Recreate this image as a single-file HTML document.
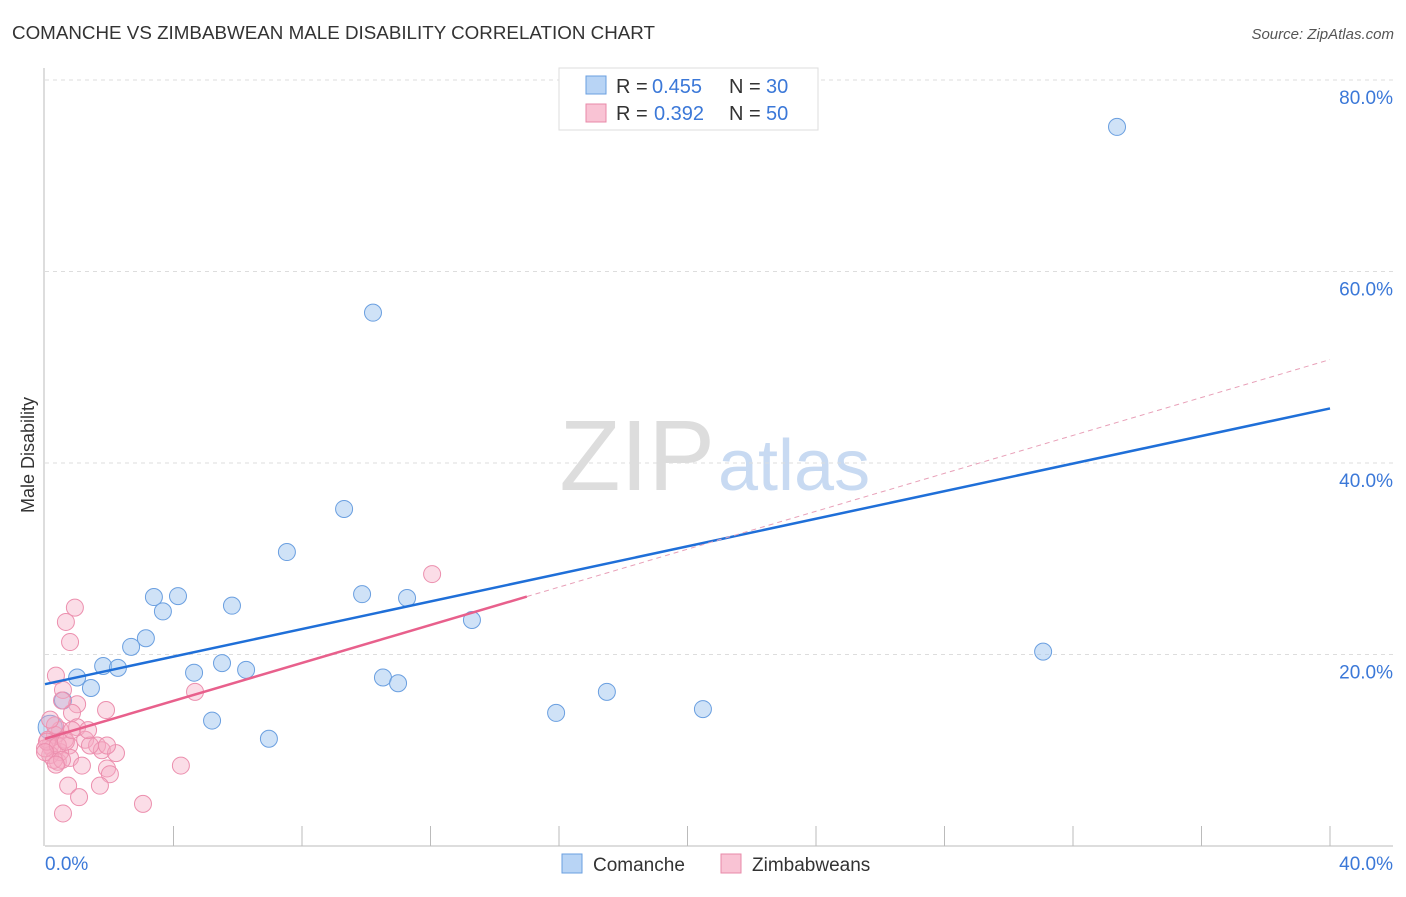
<!DOCTYPE html>
<html><head><meta charset="utf-8"><style>
body{margin:0;background:#fff;font-family:"Liberation Sans",sans-serif}
svg text{font-family:"Liberation Sans",sans-serif}
</style></head><body>
<svg width="1406" height="892" id="c">
<text x="12" y="39" font-size="18" fill="#333" textLength="643" lengthAdjust="spacingAndGlyphs">COMANCHE VS ZIMBABWEAN MALE DISABILITY CORRELATION CHART</text>
<text x="1394" y="39" font-size="15" fill="#555" text-anchor="end" font-style="italic">Source: ZipAtlas.com</text>
<text x="715" y="490" font-size="100" fill="#ddd" text-anchor="end" font-family="Liberation Serif">ZIP</text>
<text x="718" y="490" font-size="72" fill="#c8daf2">atlas</text>
<text transform="translate(34,455) rotate(-90)" font-size="18" fill="#333" text-anchor="middle">Male Disability</text>
<g id="grid"></g><g id="pts"></g><g id="lines"></g>
<g>
<rect x="559" y="68" width="259" height="62" fill="#fff" stroke="#ddd"/>
<rect x="586" y="76" width="20" height="18" fill="#b8d4f5" stroke="#6a9fe0"/>
<text x="616" y="93" font-size="20" fill="#333">R =</text>
<text x="652" y="93" font-size="20" fill="#3b78d8">0.455</text>
<text x="729" y="93" font-size="20" fill="#333">N =</text>
<text x="766" y="93" font-size="20" fill="#3b78d8">30</text>
<rect x="586" y="104" width="20" height="18" fill="#f9c3d4" stroke="#e889a8"/>
<text x="616" y="120" font-size="20" fill="#333">R =</text>
<text x="654" y="120" font-size="20" fill="#3b78d8">0.392</text>
<text x="729" y="120" font-size="20" fill="#333">N =</text>
<text x="766" y="120" font-size="20" fill="#3b78d8">50</text>
</g>
<g>
<rect x="562" y="854" width="20" height="19" fill="#b8d4f5" stroke="#6a9fe0"/>
<text x="593" y="871" font-size="19" fill="#333">Comanche</text>
<rect x="721" y="854" width="20" height="19" fill="#f9c3d4" stroke="#e889a8"/>
<text x="752" y="871" font-size="19" fill="#333">Zimbabweans</text>
</g>
</svg>
<script>
const xTicks=[0,40];
const yTicks=[20,40,60,80];
const blueX=[33.37,10.21,9.31,7.53,3.39,4.14,3.67,5.82,9.87,11.27,13.29,2.68,3.14,1.81,2.27,1.00,1.43,4.64,5.51,6.26,10.52,10.99,0.56,5.20,6.97,15.91,17.49,20.48,31.07,0.16];
const blueY=[75.1,55.7,35.2,30.7,26.0,26.1,24.5,25.1,26.3,25.9,23.6,20.8,21.7,18.8,18.6,17.6,16.5,18.1,19.1,18.4,17.6,17.0,15.2,13.1,11.2,13.9,16.1,14.3,20.3,12.4];
const pinkX=[12.05,0.93,0.65,0.78,0.34,0.56,1.00,0.84,1.90,1.00,4.67,1.25,0.47,0.16,1.62,1.77,2.21,1.93,0.75,1.40,0.40,0.78,1.15,4.23,1.93,2.02,0.72,1.71,1.06,3.05,0.56,0.31,0.09,0.22,0.47,0.62,0.16,0.28,0.0,0.06,0.40,0.53,0.65,0.31,0.84,1.34,0.53,0.16,0.0,0.34];
const pinkY=[28.4,24.9,23.4,21.3,17.8,16.3,14.8,13.9,14.2,12.4,16.1,11.1,12.1,10.5,10.5,10.0,9.7,10.5,10.5,10.5,8.8,9.2,8.4,8.4,8.1,7.5,6.3,6.3,5.1,4.4,3.4,11.6,11.1,10.2,9.8,11.1,9.5,9.0,10.2,10.9,10.5,9.0,10.9,12.6,12.1,12.1,15.2,13.2,9.8,8.5];
const blueLine=[16.9,45.7];
const pinkLine=[11.2,50.8];
const pinkSolidEnd=15;
const X=v=>45+v*(1330-45)/40, Y=v=>846-v*(846-80)/80;
const NS='http://www.w3.org/2000/svg';
function mk(p,t,a){const e=document.createElementNS(NS,t);for(const k in a)e.setAttribute(k,a[k]);p.appendChild(e);return e;}
const g=document.getElementById('grid');
yTicks.forEach(t=>{
 const l=mk(g,'line',{x1:45,x2:1393,y1:Y(t),y2:Y(t),stroke:'#ddd','stroke-dasharray':'4,4'});
 
 
 const tx=mk(g,'text',{x:1393,y:Y(t)+24,'font-size':19,fill:'#3b78d8','text-anchor':'end'});
 tx.textContent=t.toFixed(1)+'%';
 
 
});
mk(g,'line',{x1:44,x2:44,y1:68,y2:846,stroke:'#bbb'});
mk(g,'line',{x1:45,x2:1393,y1:846,y2:846,stroke:'#bbb'});
for(let i=1;i<=10;i++){const tk=mk(g,'line',{x1:X(i*4),x2:X(i*4),y1:826,y2:846,stroke:'#bbb'});
 
 }
xTicks.forEach((t,i)=>{const tx=mk(g,'text',{x:i?1393:45,y:870,'font-size':19,fill:'#3b78d8','text-anchor':i?'end':'start'});
 tx.textContent=t.toFixed(1)+'%';
 
 });
const P=document.getElementById('pts');
blueX.forEach((v,i)=>{const c=mk(P,'circle',{cx:X(v),cy:Y(blueY[i]),r:i==29?12:8.5,fill:'rgba(160,197,240,0.5)',stroke:'#6a9fe0','stroke-width':1});
 
 });
pinkX.forEach((v,i)=>{const c=mk(P,'circle',{cx:X(v),cy:Y(pinkY[i]),r:8.5,fill:'rgba(245,170,195,0.4)',stroke:'#ec8fae','stroke-width':1});
 
 });
const L=document.getElementById('lines');
const bl=mk(L,'line',{x1:X(0),y1:Y(blueLine[0]),x2:X(40),y2:Y(blueLine[1]),stroke:'#1f6fd8','stroke-width':2.5});


const pe=pinkLine[0]+(pinkLine[1]-pinkLine[0])*pinkSolidEnd/40;
const pl=mk(L,'line',{x1:X(0),y1:Y(pinkLine[0]),x2:X(pinkSolidEnd),y2:Y(pe),stroke:'#e8608c','stroke-width':2.5});


const pd=mk(L,'line',{x1:X(pinkSolidEnd),y1:Y(pe),x2:X(40),y2:Y(pinkLine[1]),stroke:'#e8a0b8','stroke-width':1,'stroke-dasharray':'5,4'});


</script>
</body></html>
